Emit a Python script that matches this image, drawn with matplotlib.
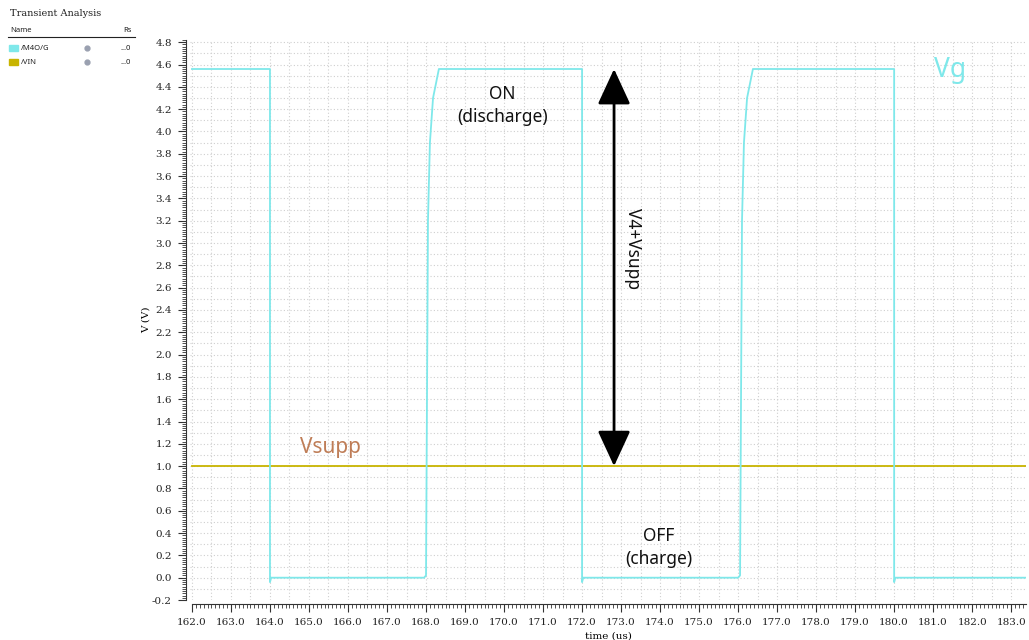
import numpy as np
import matplotlib
matplotlib.use('Agg')
import matplotlib.pyplot as plt
from matplotlib.ticker import MultipleLocator, FormatStrFormatter
from matplotlib.lines import Line2D

# waveform data
t_vg = [162.0, 164.0, 164.0, 164.03, 167.95, 168.0, 168.05, 168.1, 168.18, 168.33,
        172.0, 172.0, 172.03, 176.0, 176.05, 176.1, 176.15, 176.23, 176.38,
        180.0, 180.0, 180.03, 183.5]
v_vg = [4.56, 4.56, -0.04, 0.0, 0.0, 0.02, 3.2, 3.9, 4.3, 4.56,
        4.56, -0.04, 0.0, 0.0, 0.02, 3.2, 3.9, 4.3, 4.56,
        4.56, -0.04, 0.0, 0.0]
t_vin = [162.0, 183.5]
v_vin = [1.0, 1.0]

names = ['/M4O/G', '/VIN']
colors = ['#7fe8ea', '#c8b400']

fig = plt.figure(figsize=(10.29, 6.40), dpi=100)
ax = fig.add_axes([190/1029, 1 - 600/640, (1026 - 190)/1029, 560/640])

xmin, xmax = 161.95, 183.38
ymin, ymax = -0.2, 4.82
ax.set_xlim(xmin, xmax)
ax.set_ylim(ymin, ymax)

# dotted grid
for gx in np.arange(162.0, 183.5, 0.5):
    ax.axvline(gx, color='#cfcfcf', lw=0.8, ls=(0, (1, 2)), zorder=0)
for gy in np.arange(-0.1, 4.85, 0.1):
    ax.axhline(gy, color='#cfcfcf', lw=0.8, ls=(0, (1, 2)), zorder=0)

ax.plot(t_vin, v_vin, color=colors[1], lw=1.3, zorder=2)
ax.plot(t_vg, v_vg, color=colors[0], lw=1.3, zorder=3)

for s in ['top', 'right']:
    ax.spines[s].set_visible(False)
ax.spines['left'].set_position(('outward', 3))
ax.spines['bottom'].set_position(('outward', 3))
ax.spines['bottom'].set_bounds(162.0, xmax)
ax.spines['left'].set_color('#333333')
ax.spines['bottom'].set_color('#333333')

ax.xaxis.set_major_locator(MultipleLocator(1.0))
ax.xaxis.set_minor_locator(MultipleLocator(0.1))
ax.xaxis.set_major_formatter(FormatStrFormatter('%.1f'))
ax.yaxis.set_major_locator(MultipleLocator(0.2))
ax.yaxis.set_minor_locator(MultipleLocator(0.02))
ax.yaxis.set_major_formatter(FormatStrFormatter('%.1f'))
ax.tick_params(which='major', length=6, width=0.8, color='#333333',
               labelsize=7.5, labelcolor='#222222', pad=4)
ax.tick_params(which='minor', length=3, width=0.6, color='#333333')
for lab in ax.get_xticklabels() + ax.get_yticklabels():
    lab.set_family('DejaVu Serif')

ax.set_xlabel('time (us)', fontsize=7.5, family='DejaVu Serif', labelpad=3)
ax.set_ylabel('V (V)', fontsize=7.5, family='DejaVu Serif', labelpad=1)

# annotations
txt = 'Noto Sans'
ax.annotate('', xy=(172.82, 4.56), xytext=(172.82, 1.0),
            arrowprops=dict(arrowstyle='<|-|>,head_length=1.3,head_width=0.6',
                            lw=2, color='black', mutation_scale=17,
                            shrinkA=0, shrinkB=0), zorder=5)
ax.text(173.3, 2.95, 'V4+Vsupp', rotation=-90, ha='center', va='center',
        fontsize=12.5, family=txt, color='#111111')
ax.text(169.95, 4.23, 'ON\n(discharge)', ha='center', va='center',
        fontsize=12.5, family=txt, color='#111111', linespacing=1.35)
ax.text(173.96, 0.27, 'OFF\n(charge)', ha='center', va='center',
        fontsize=12.5, family=txt, color='#111111', linespacing=1.35)
ax.text(181.43, 4.55, 'Vg', ha='center', va='center', fontsize=19,
        family=txt, color='#7fe8ea')
ax.text(165.55, 1.17, 'Vsupp', ha='center', va='center', fontsize=15,
        family=txt, color='#bf7d57')

# legend panel in the top-left corner
def fx(px):
    return px / 1029

def fy(py):
    return 1 - py / 640

fig.text(fx(10), fy(14), 'Transient Analysis', fontsize=7, family='DejaVu Serif',
         va='center', color='#222222')
fig.text(fx(10), fy(31), 'Name', fontsize=5.5, family=txt, va='center', color='#222222')
fig.text(fx(123), fy(31), 'Rs', fontsize=5.5, family=txt, va='center', color='#222222')
fig.add_artist(Line2D([fx(8), fx(135)], [fy(37), fy(37)], color='#222222', lw=0.8))
for i, (n, c) in enumerate(zip(names, colors)):
    yy = fy(48 + 14 * i)
    fig.add_artist(plt.Rectangle((fx(9), yy - 3/640), 9/1029, 6/640, color=c))
    fig.text(fx(21), yy, n, fontsize=5.5, family=txt, va='center', color='#222222')
    fig.add_artist(Line2D([fx(87)], [yy], marker='o', ms=3.5, color='#9aa0b0'))
    fig.text(fx(120), yy, '...0', fontsize=5.5, family=txt, va='center', color='#222222')

fig.savefig('out.png', dpi=100)
